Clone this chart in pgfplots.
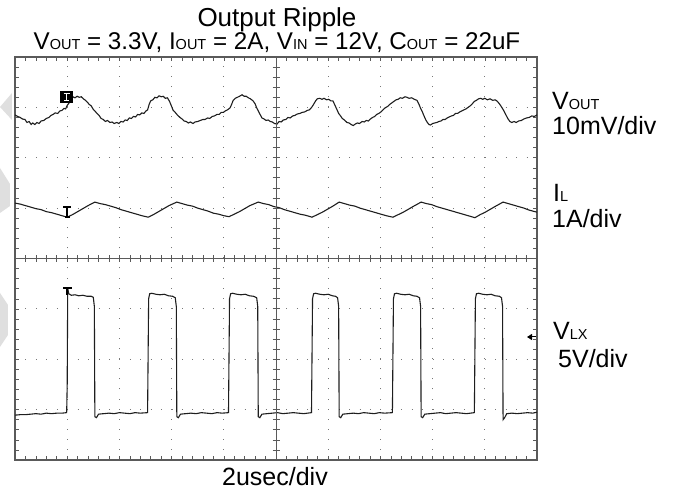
\documentclass[border=0pt]{standalone}
\usepackage{pgfplots}
\pgfplotsset{compat=1.18}
\usepackage{fontspec}
\setmainfont{Liberation Sans}
\usetikzlibrary{arrows.meta}

\definecolor{trace}{RGB}{30,30,30}
\definecolor{gridc}{RGB}{120,120,120}
\definecolor{framec}{RGB}{90,90,90}

\newcommand\lbl[1]{\fontsize{25bp}{28bp}\selectfont #1}
\newcommand\sub[1]{{\fontsize{14.5bp}{16bp}\selectfont #1}}

\begin{document}
\begin{tikzpicture}
\path[use as bounding box] (-15bp,-31bp) rectangle (658bp,460bp);

% channel markers on the left
\fill[gray!25] (-3bp,367bp) -- (-15bp,353bp) -- (-3bp,340bp) -- cycle;
\fill[gray!25] (-15bp,292bp) -- (-5bp,276bp) -- (-5bp,254bp) -- (-15bp,247bp) -- cycle;
\fill[gray!25] (-15bp,167bp) -- (-7bp,155bp) -- (-7bp,125bp) -- (-15bp,113bp) -- cycle;

\begin{axis}[
    at={(0,0)}, anchor=south west,
    width=522bp, height=403bp, scale only axis,
    xmin=0, xmax=10, ymin=0, ymax=8,
    xtick={0,...,10}, ytick={0,...,8},
    minor x tick num=4, minor y tick num=4,
    xticklabels={}, yticklabels={},
    tick align=inside,
    major tick length=4bp, minor tick length=4bp,
    tick style={framec, line width=0.6bp},
    grid=major,
    x grid style={gridc, line width=1bp, dash pattern=on 1bp off 9.08bp},
    y grid style={gridc, line width=1bp, dash pattern=on 1bp off 9.44bp},
    axis line style={framec, line width=1.1bp},
]

% V_OUT (10mV/div)
\addplot[trace, line width=1.1bp] coordinates {
(0.00,6.85)(0.05,6.82)(0.10,6.80)(0.14,6.77)(0.19,6.76)(0.23,6.70)(0.27,6.72)(0.31,6.66)
(0.34,6.69)(0.38,6.66)(0.42,6.70)(0.46,6.68)(0.50,6.73)(0.55,6.74)(0.60,6.78)(0.65,6.80)
(0.69,6.84)(0.73,6.86)(0.77,6.89)(0.82,6.88)(0.86,6.93)(0.90,6.94)(0.94,6.98)(0.97,6.97)
(1.00,7.04)(1.03,7.08)(1.07,7.14)(1.11,7.21)(1.15,7.19)(1.19,7.22)(1.23,7.20)(1.27,7.21)
(1.31,7.17)(1.35,7.14)(1.39,7.10)(1.42,7.06)(1.46,7.03)(1.50,6.96)(1.53,6.93)(1.57,6.88)
(1.61,6.84)(1.65,6.78)(1.69,6.76)(1.73,6.72)(1.77,6.74)(1.82,6.70)(1.86,6.71)(1.90,6.68)
(1.95,6.70)(1.99,6.68)(2.03,6.72)(2.07,6.71)(2.11,6.75)(2.15,6.74)(2.19,6.79)(2.23,6.78)
(2.27,6.82)(2.31,6.81)(2.35,6.86)(2.39,6.85)(2.43,6.89)(2.47,6.88)(2.51,6.93)(2.54,6.95)
(2.57,7.06)(2.60,7.13)(2.64,7.15)(2.68,7.20)(2.72,7.19)(2.76,7.23)(2.80,7.21)(2.84,7.22)
(2.88,7.18)(2.92,7.19)(2.96,7.12)(3.00,7.02)(3.03,6.94)(3.07,6.90)(3.11,6.85)(3.16,6.80)
(3.20,6.77)(3.24,6.73)(3.28,6.72)(3.32,6.69)(3.36,6.71)(3.41,6.68)(3.45,6.71)(3.50,6.72)
(3.55,6.74)(3.60,6.76)(3.64,6.76)(3.69,6.79)(3.73,6.78)(3.78,6.82)(3.82,6.83)(3.87,6.86)
(3.91,6.86)(3.95,6.90)(3.99,6.90)(4.03,6.93)(4.07,6.95)(4.12,6.99)(4.15,7.06)(4.18,7.14)
(4.22,7.18)(4.26,7.20)(4.30,7.22)(4.35,7.25)(4.39,7.22)(4.43,7.22)(4.47,7.19)(4.51,7.17)
(4.56,7.13)(4.60,7.07)(4.63,6.99)(4.66,6.93)(4.70,6.85)(4.73,6.79)(4.77,6.77)(4.81,6.74)
(4.85,6.75)(4.89,6.72)(4.93,6.71)(4.97,6.68)(5.02,6.67)(5.06,6.72)(5.10,6.71)(5.14,6.75)
(5.19,6.76)(5.23,6.80)(5.27,6.79)(5.32,6.83)(5.36,6.84)(5.41,6.87)(5.46,6.88)(5.50,6.90)
(5.55,6.91)(5.60,6.94)(5.64,6.95)(5.69,7.01)(5.72,7.06)(5.76,7.13)(5.79,7.17)(5.84,7.18)
(5.88,7.16)(5.92,7.18)(5.97,7.15)(6.01,7.16)(6.05,7.13)(6.09,7.13)(6.13,7.04)(6.17,6.95)
(6.20,6.88)(6.23,6.84)(6.27,6.78)(6.31,6.75)(6.36,6.70)(6.40,6.69)(6.44,6.66)(6.48,6.64)
(6.52,6.67)(6.56,6.69)(6.60,6.68)(6.65,6.72)(6.69,6.71)(6.73,6.74)(6.77,6.73)(6.81,6.77)
(6.85,6.80)(6.89,6.82)(6.93,6.86)(6.97,6.88)(7.01,6.91)(7.05,6.95)(7.09,6.99)(7.14,7.02)
(7.18,7.06)(7.22,7.09)(7.26,7.12)(7.30,7.15)(7.34,7.16)(7.38,7.19)(7.42,7.18)(7.47,7.21)
(7.51,7.20)(7.55,7.18)(7.60,7.19)(7.65,7.16)(7.70,7.14)(7.74,7.06)(7.77,6.98)(7.80,6.92)
(7.84,6.82)(7.87,6.75)(7.90,6.70)(7.93,6.66)(7.96,6.65)(8.00,6.68)(8.04,6.69)(8.08,6.70)
(8.12,6.72)(8.16,6.73)(8.20,6.76)(8.24,6.76)(8.28,6.79)(8.32,6.81)(8.36,6.83)(8.40,6.84)
(8.44,6.88)(8.48,6.88)(8.52,6.91)(8.56,6.93)(8.60,6.95)(8.64,6.97)(8.68,7.00)(8.72,7.03)
(8.76,7.07)(8.80,7.12)(8.84,7.14)(8.88,7.17)(8.92,7.18)(8.96,7.16)(9.00,7.18)(9.05,7.15)
(9.10,7.17)(9.15,7.14)(9.20,7.15)(9.24,7.12)(9.28,7.07)(9.32,7.01)(9.36,6.94)(9.40,6.86)
(9.44,6.78)(9.48,6.72)(9.52,6.70)(9.56,6.72)(9.60,6.70)(9.65,6.73)(9.70,6.74)(9.75,6.77)
(9.80,6.79)(9.85,6.80)(9.90,6.83)(9.95,6.82)(10.00,6.85)
};

% I_L (1A/div)
\addplot[trace, line width=1.1bp] coordinates {
(0.00,5.10)(0.10,5.08)(0.20,5.05)(0.30,5.02)(0.40,4.99)(0.50,4.97)(0.60,4.93)(0.70,4.91)
(0.80,4.88)(0.90,4.85)(1.00,4.82)(1.10,4.87)(1.20,4.93)(1.30,4.99)(1.40,5.05)(1.53,5.12)
(1.63,5.09)(1.73,5.07)(1.83,5.04)(1.93,5.01)(2.03,4.97)(2.13,4.94)(2.23,4.91)(2.33,4.88)
(2.43,4.85)(2.55,4.82)(2.65,4.87)(2.75,4.93)(2.85,4.99)(2.95,5.05)(3.10,5.12)(3.20,5.09)
(3.30,5.06)(3.40,5.04)(3.50,5.00)(3.60,4.97)(3.70,4.94)(3.80,4.90)(3.90,4.88)(4.00,4.85)
(4.10,4.83)(4.20,4.88)(4.30,4.93)(4.40,4.99)(4.50,5.05)(4.66,5.12)(4.76,5.09)(4.86,5.07)
(4.96,5.03)(5.06,5.01)(5.16,4.97)(5.26,4.94)(5.36,4.91)(5.46,4.88)(5.56,4.86)(5.69,4.82)
(5.79,4.87)(5.89,4.92)(5.99,4.98)(6.09,5.04)(6.21,5.12)(6.31,5.09)(6.41,5.06)(6.51,5.04)
(6.61,5.00)(6.71,4.97)(6.81,4.94)(6.91,4.91)(7.01,4.88)(7.11,4.85)(7.24,4.82)(7.34,4.87)
(7.44,4.92)(7.54,4.98)(7.64,5.04)(7.78,5.12)(7.88,5.09)(7.98,5.07)(8.08,5.03)(8.18,5.00)
(8.28,4.97)(8.38,4.94)(8.48,4.91)(8.58,4.88)(8.68,4.85)(8.81,4.81)(8.91,4.87)(9.01,4.92)
(9.11,4.98)(9.21,5.04)(9.35,5.12)(9.45,5.09)(9.55,5.06)(9.65,5.03)(9.75,5.00)(9.85,4.96)
(10.00,4.92)
};

% V_LX (5V/div)
\addplot[trace, line width=1.1bp] coordinates {
(0.00,0.89)(0.10,0.90)(0.20,0.90)(0.30,0.91)(0.40,0.92)(0.50,0.91)(0.60,0.93)(0.70,0.92)
(0.80,0.93)(0.90,0.93)(0.99,0.94)(1.00,1.50)(1.01,3.41)(1.03,3.30)(1.08,3.27)(1.15,3.28)
(1.22,3.26)(1.30,3.27)(1.38,3.25)(1.46,3.25)(1.50,3.23)(1.52,3.05)(1.53,0.86)(1.56,0.84)
(1.60,0.91)(1.70,0.92)(1.80,0.93)(1.90,0.92)(2.00,0.94)(2.10,0.93)(2.20,0.92)(2.30,0.94)
(2.40,0.93)(2.54,0.94)(2.56,3.20)(2.58,3.30)(2.62,3.31)(2.70,3.29)(2.78,3.28)(2.86,3.29)
(2.94,3.26)(3.02,3.25)(3.07,3.22)(3.09,3.05)(3.10,0.86)(3.13,0.84)(3.17,0.91)(3.27,0.92)
(3.37,0.93)(3.47,0.92)(3.57,0.94)(3.67,0.93)(3.77,0.92)(3.87,0.94)(3.97,0.93)(4.09,0.94)
(4.11,3.20)(4.13,3.30)(4.17,3.31)(4.25,3.29)(4.33,3.28)(4.41,3.29)(4.49,3.26)(4.57,3.25)
(4.63,3.22)(4.65,3.05)(4.66,0.86)(4.69,0.84)(4.73,0.91)(4.83,0.92)(4.93,0.93)(5.03,0.94)
(5.13,0.92)(5.23,0.93)(5.33,0.94)(5.43,0.93)(5.53,0.92)(5.68,0.94)(5.70,3.20)(5.72,3.30)
(5.76,3.31)(5.84,3.29)(5.92,3.28)(6.00,3.29)(6.08,3.26)(6.14,3.25)(6.18,3.22)(6.20,3.05)
(6.21,0.86)(6.24,0.84)(6.28,0.91)(6.38,0.92)(6.48,0.93)(6.58,0.92)(6.68,0.94)(6.78,0.93)
(6.88,0.92)(6.98,0.94)(7.08,0.93)(7.23,0.94)(7.25,3.20)(7.27,3.30)(7.31,3.31)(7.39,3.29)
(7.47,3.28)(7.55,3.29)(7.63,3.26)(7.70,3.25)(7.75,3.22)(7.77,3.05)(7.78,0.86)(7.81,0.84)
(7.85,0.91)(7.95,0.92)(8.05,0.93)(8.15,0.94)(8.25,0.92)(8.35,0.93)(8.45,0.94)(8.55,0.93)
(8.65,0.92)(8.80,0.94)(8.82,3.20)(8.84,3.30)(8.88,3.31)(8.96,3.29)(9.04,3.28)(9.12,3.29)
(9.20,3.26)(9.28,3.25)(9.32,3.22)(9.34,3.05)(9.35,0.80)(9.38,0.84)(9.42,0.92)(9.52,0.93)
(9.62,0.92)(9.72,0.93)(9.82,0.94)(9.92,0.93)(10.00,0.95)
};
\end{axis}

% centre cross with its ticks
\draw[framec, line width=0.9bp] (261bp,0) -- (261bp,403bp);
\draw[framec, line width=0.9bp] (0,201.5bp) -- (522bp,201.5bp);
\foreach \i in {1,...,49} \draw[framec, line width=0.6bp] ({\i*10.44bp},198bp) -- ++(0,7bp);
\foreach \i in {1,...,39} \draw[framec, line width=0.6bp] (257.5bp,{\i*10.08bp}) -- ++(7bp,0);

% trigger markers
\fill[black] (45bp,357bp) rectangle (58bp,369bp);
\draw[white, line width=1.2bp] (48.5bp,366.5bp) -- (54.5bp,366.5bp) (51.5bp,366.5bp) -- (51.5bp,359.5bp) (49bp,359.5bp) -- (54bp,359.5bp);
\draw[black, line width=1.1bp] (48bp,253bp) -- (56bp,253bp) (52bp,253bp) -- (52bp,243bp) (49.5bp,243bp) -- (54.5bp,243bp);
\draw[black, line width=1.1bp] (48bp,172bp) -- (57bp,172bp) (52bp,172bp) -- (52bp,165bp);
\draw[black, line width=1bp, -{Triangle[length=5bp,width=6bp]}] (521bp,123bp) -- (512bp,123bp);

% titles and labels
\node[anchor=base, inner sep=0] at (262bp,433bp) {\fontsize{26bp}{28bp}\selectfont Output Ripple};
\node[anchor=base, inner sep=0] at (262bp,410bp) {\fontsize{24.2bp}{28bp}\selectfont V\sub{OUT} = 3.3V, I\sub{OUT} = 2A, V\sub{IN} = 12V, C\sub{OUT} = 22uF};
\node[anchor=base, inner sep=0] at (260bp,-25bp) {\lbl{2usec/div}};
\node[anchor=base west, inner sep=0] at (537bp,350bp) {\lbl{V\sub{OUT}}};
\node[anchor=base west, inner sep=0] at (537bp,325bp) {\lbl{10mV/div}};
\node[anchor=base west, inner sep=0] at (538bp,258bp) {\lbl{I\sub{L}}};
\node[anchor=base west, inner sep=0] at (537bp,232bp) {\lbl{1A/div}};
\node[anchor=base west, inner sep=0] at (538bp,120bp) {\lbl{V\sub{LX}}};
\node[anchor=base west, inner sep=0] at (543bp,92bp) {\lbl{5V/div}};
\end{tikzpicture}
\end{document}
